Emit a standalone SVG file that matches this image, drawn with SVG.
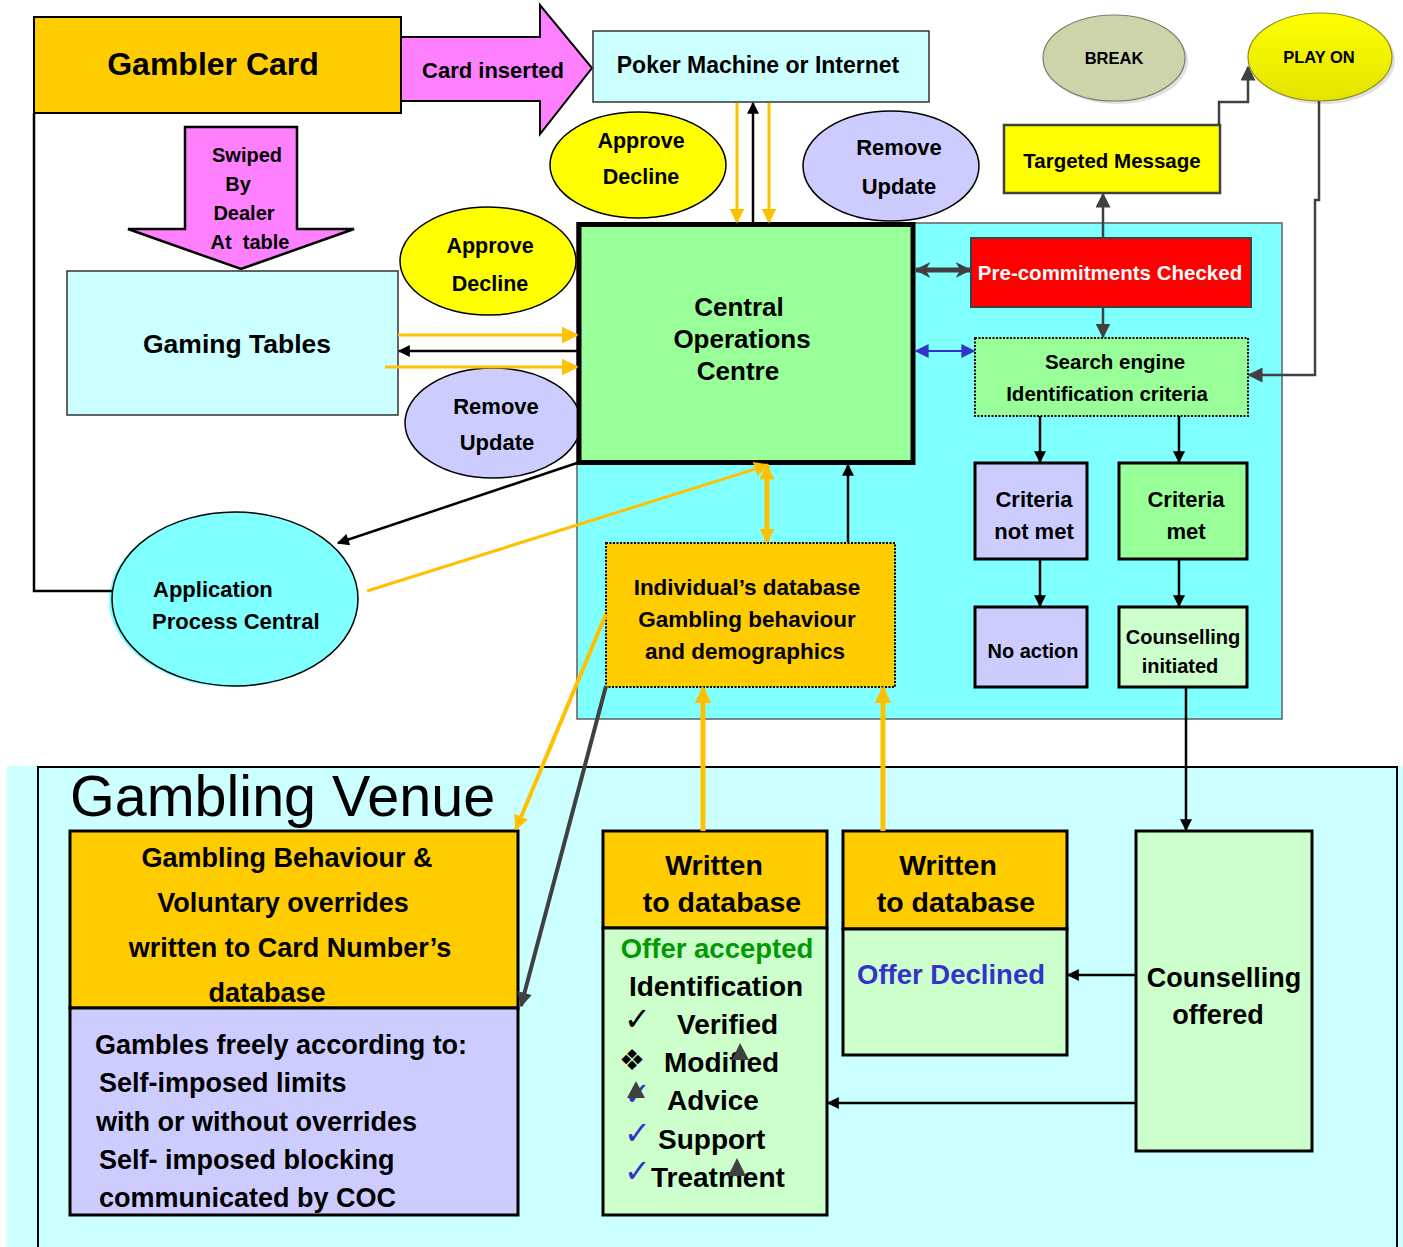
<svg xmlns="http://www.w3.org/2000/svg" width="1403" height="1247" viewBox="0 0 1403 1247">
<defs>
<style>
text{font-family:"Liberation Sans",Arial,sans-serif;font-weight:bold;fill:#000;dominant-baseline:central}
.c{text-anchor:middle}
.s{text-anchor:start}
.bx{stroke:#000;stroke-width:3}
.thin{stroke:#000;stroke-width:1.5}
.ln{fill:none;stroke:#000;stroke-width:2.5}
.yl{fill:none;stroke:#FFC000;stroke-width:3}
.yt{fill:none;stroke:#FFC000;stroke-width:5}
.gl{fill:none;stroke:#404040;stroke-width:2.5}
.sym{font-family:"DejaVu Sans",sans-serif;font-weight:normal}
</style>
<marker id="hB" viewBox="0 0 10 10" refX="9" refY="5" markerWidth="13" markerHeight="12" markerUnits="userSpaceOnUse" orient="auto-start-reverse"><path d="M0,0L10,5L0,10z" fill="#000"/></marker>
<marker id="hY" viewBox="0 0 10 10" refX="9" refY="5" markerWidth="15" markerHeight="15" markerUnits="userSpaceOnUse" orient="auto-start-reverse"><path d="M0,0L10,5L0,10z" fill="#FFC000"/></marker>
<marker id="hYb" viewBox="0 0 10 10" refX="9" refY="5" markerWidth="17" markerHeight="17" markerUnits="userSpaceOnUse" orient="auto-start-reverse"><path d="M0,0L10,5L0,10z" fill="#FFC000"/></marker>
<marker id="hG" viewBox="0 0 10 10" refX="9" refY="5" markerWidth="15" markerHeight="15" markerUnits="userSpaceOnUse" orient="auto-start-reverse"><path d="M0,0L10,5L0,10z" fill="#404040"/></marker>
<marker id="hGc" viewBox="0 0 10 10" refX="9" refY="5" markerWidth="16" markerHeight="18" markerUnits="userSpaceOnUse" orient="auto-start-reverse"><path d="M0,0L10,5L0,10L3,5z" fill="#404040"/></marker>
<marker id="hL" viewBox="0 0 10 10" refX="9" refY="5" markerWidth="15" markerHeight="14" markerUnits="userSpaceOnUse" orient="auto-start-reverse"><path d="M0,0L10,5L0,10z" fill="#3333CC"/></marker>
<linearGradient id="gy" x1="0" y1="0" x2="0" y2="1"><stop offset="0" stop-color="#FFFF00"/><stop offset="1" stop-color="#E3E300"/></linearGradient>
</defs>

<g id="venue-bg">
<rect x="7" y="766" width="1396" height="481" fill="#CCFFFF"/>
<rect x="38" y="767" width="1359" height="490" fill="none" stroke="#000" stroke-width="2"/>
<text x="70" y="796" class="s" style="font-weight:normal;font-size:57.5px">Gambling Venue</text>
</g>

<g id="central-area">
<rect x="577" y="223" width="705" height="496" fill="#80FFFF" stroke="#606060" stroke-width="1.5"/>
</g>

<g id="gambler-card">
<rect x="34" y="17" width="367" height="96" fill="#FFCC00" stroke="#000" stroke-width="2"/>
<text x="213" y="64" class="c" style="font-size:32px">Gambler Card</text>
</g>

<g id="card-inserted">
<path d="M401,37 L540,37 L540,5 L592,68 L540,134 L540,101 L401,101 Z" fill="#FF80FF" stroke="#000" stroke-width="2"/>
<text x="493" y="70" class="c" style="font-size:22px">Card inserted</text>
</g>

<g id="poker-machine">
<rect x="593" y="31" width="336" height="71" fill="#CCFFFF" stroke="#333" stroke-width="1.5"/>
<text x="758" y="65" class="c" style="font-size:23px">Poker Machine or Internet</text>
</g>

<g id="approve-top">
<ellipse cx="638" cy="165" rx="88" ry="53" fill="#FFFF00" class="thin"/>
<text x="641" y="141" class="c" style="font-size:21.5px">Approve</text>
<text x="641" y="177" class="c" style="font-size:21.5px">Decline</text>
</g>

<g id="remove-top">
<ellipse cx="891" cy="166" rx="88" ry="55" fill="#CCCCFF" class="thin"/>
<text x="899" y="147" class="c" style="font-size:22px">Remove</text>
<text x="899" y="186" class="c" style="font-size:22px">Update</text>
</g>

<g id="swiped">
<path d="M185,127 L297,127 L297,229 L354,229 L241,269 L128,229 L185,229 Z" fill="#FF80FF" stroke="#000" stroke-width="2.5"/>
<text x="247" y="155" class="c" style="font-size:20px">Swiped</text>
<text x="238" y="184" class="c" style="font-size:20px">By</text>
<text x="244" y="213" class="c" style="font-size:20px">Dealer</text>
<text x="250" y="242" class="c" style="font-size:20px" xml:space="preserve">At  table</text>
</g>

<g id="gaming-tables">
<rect x="67" y="271" width="331" height="144" fill="#CCFFFF" stroke="#333" stroke-width="1.5"/>
<text x="237" y="344" class="c" style="font-size:26.5px">Gaming Tables</text>
</g>

<g id="approve-left">
<ellipse cx="488" cy="261" rx="88" ry="54" fill="#FFFF00" class="thin"/>
<text x="490" y="246" class="c" style="font-size:21.5px">Approve</text>
<text x="490" y="284" class="c" style="font-size:21.5px">Decline</text>
</g>

<g id="remove-left">
<ellipse cx="493" cy="423" rx="88" ry="55" fill="#CCCCFF" class="thin"/>
<text x="496" y="406" class="c" style="font-size:22px">Remove</text>
<text x="497" y="442" class="c" style="font-size:22px">Update</text>
</g>

<g id="coc">
<rect x="579" y="224.5" width="334" height="238" fill="#99FF99" stroke="#000" stroke-width="5"/>
<text x="739" y="307" class="c" style="font-size:26px">Central</text>
<text x="742" y="339" class="c" style="font-size:26px">Operations</text>
<text x="738" y="371" class="c" style="font-size:26px">Centre</text>
</g>

<g id="break">
<ellipse cx="1117" cy="61" rx="71" ry="43" fill="#E0E0E0"/>
<ellipse cx="1114" cy="58" rx="71" ry="43" fill="#CDD4A9" stroke="#7A7A6A" stroke-width="1.2"/>
<text x="1114" y="58" class="c" style="font-size:16.5px">BREAK</text>
</g>

<g id="play-on">
<ellipse cx="1323" cy="60" rx="72" ry="44" fill="#E0E0E0"/>
<ellipse cx="1320" cy="57" rx="72" ry="44" fill="url(#gy)" stroke="#8C8C20" stroke-width="1.2"/>
<text x="1319" y="57" class="c" style="font-size:16.5px">PLAY ON</text>
</g>

<g id="targeted-message">
<rect x="1004" y="125" width="216" height="68" fill="#FFFF00" stroke="#404040" stroke-width="2.5"/>
<text x="1112" y="160" class="c" style="font-size:20.5px">Targeted Message</text>
</g>

<g id="pre-commitments">
<rect x="971" y="238" width="280" height="69" fill="#FF0000" stroke="#404040" stroke-width="2"/>
<text x="1110" y="272" class="c" style="font-size:20.5px;fill:#FFFFFF">Pre-commitments Checked</text>
</g>

<g id="search-engine">
<rect x="975" y="338" width="273" height="78" fill="#99FF99" stroke="#000" stroke-width="2" stroke-dasharray="2 1.5"/>
<text x="1115" y="361" class="c" style="font-size:20.5px">Search engine</text>
<text x="1107" y="393" class="c" style="font-size:20.5px">Identification criteria</text>
</g>

<g id="criteria-not-met">
<rect x="975" y="463" width="112" height="96" fill="#CCCCFF" class="bx"/>
<text x="1034" y="499" class="c" style="font-size:22px">Criteria</text>
<text x="1034" y="531" class="c" style="font-size:22px">not met</text>
</g>

<g id="criteria-met">
<rect x="1119" y="463" width="128" height="96" fill="#99FF99" class="bx"/>
<text x="1186" y="499" class="c" style="font-size:22px">Criteria</text>
<text x="1186" y="531" class="c" style="font-size:22px">met</text>
</g>

<g id="no-action">
<rect x="975" y="607" width="112" height="80" fill="#CCCCFF" class="bx"/>
<text x="1033" y="651" class="c" style="font-size:20px">No action</text>
</g>

<g id="counselling-initiated">
<rect x="1119" y="607" width="128" height="80" fill="#CCFFCC" class="bx"/>
<text x="1183" y="637" class="c" style="font-size:20px">Counselling</text>
<text x="1180" y="666" class="c" style="font-size:20px">initiated</text>
</g>

<g id="individual-database">
<rect x="606" y="543" width="289" height="144" fill="#FFCC00" stroke="#000" stroke-width="2" stroke-dasharray="2 1.5"/>
<text x="747" y="587" class="c" style="font-size:22.5px">Individual’s database</text>
<text x="747" y="619" class="c" style="font-size:22.5px">Gambling behaviour</text>
<text x="745" y="651" class="c" style="font-size:22.5px">and demographics</text>
</g>

<g id="application-process">
<ellipse cx="232" cy="600" rx="123" ry="87" fill="#80FFFF"/>
<ellipse cx="235" cy="599" rx="123" ry="87" fill="#80FFFF" stroke="#000" stroke-width="1.5"/>
<text x="153" y="589" class="s" style="font-size:22px">Application</text>
<text x="152" y="621" class="s" style="font-size:22px">Process Central</text>
</g>

<g id="gambling-behaviour">
<rect x="70" y="831" width="448" height="177" fill="#FFCC00" class="bx"/>
<text x="287" y="858" class="c" style="font-size:27px">Gambling Behaviour &amp;</text>
<text x="283" y="903" class="c" style="font-size:27px">Voluntary overrides</text>
<text x="290" y="948" class="c" style="font-size:27px">written to Card Number’s</text>
<text x="267" y="993" class="c" style="font-size:27px">database</text>
</g>

<g id="gambles-freely">
<rect x="70" y="1008" width="448" height="207" fill="#CCCCFF" class="bx"/>
<text x="95" y="1045" class="s" style="font-size:27px">Gambles freely according to:</text>
<text x="99" y="1083" class="s" style="font-size:27px">Self-imposed limits</text>
<text x="96" y="1122" class="s" style="font-size:27px">with or without overrides</text>
<text x="99" y="1160" class="s" style="font-size:27px">Self- imposed blocking</text>
<text x="99" y="1198" class="s" style="font-size:27px">communicated by COC</text>
</g>

<g id="written-accepted">
<rect x="603" y="831" width="224" height="97" fill="#FFCC00" class="bx"/>
<rect x="603" y="928" width="224" height="287" fill="#CCFFCC" class="bx"/>
<text x="714" y="865" class="c" style="font-size:28.5px">Written</text>
<text x="722" y="902" class="c" style="font-size:28.5px">to database</text>
<text x="717" y="948" class="c" style="font-size:27.5px;fill:#009900">Offer accepted</text>
<text x="716" y="986" class="c" style="font-size:28px">Identification</text>
<text x="624" y="1019" class="s sym" style="font-size:32px">✓</text>
<text x="677" y="1024" class="s" style="font-size:28px">Verified</text>
<text x="619" y="1060" class="s sym" style="font-size:29px">❖</text>
<text x="664" y="1062" class="s" style="font-size:28px">Modified</text>
<text x="624" y="1094" class="s sym" style="font-size:32px;fill:#3333CC">✓</text>
<text x="667" y="1100" class="s" style="font-size:28px">Advice</text>
<text x="624" y="1133" class="s sym" style="font-size:32px;fill:#3333CC">✓</text>
<text x="658" y="1139" class="s" style="font-size:28px">Support</text>
<text x="624" y="1171" class="s sym" style="font-size:32px;fill:#3333CC">✓</text>
<text x="651" y="1177" class="s" style="font-size:28px">Treatment</text>
<path d="M740,1043 L749,1060 L732,1060 Z M636,1081 L645,1098 L627,1098 Z M737,1158 L746,1176 L728,1176 Z" fill="#404040"/>
</g>

<g id="written-declined">
<rect x="843" y="831" width="224" height="98" fill="#FFCC00" class="bx"/>
<rect x="843" y="929" width="224" height="126" fill="#CCFFCC" class="bx"/>
<text x="948" y="865" class="c" style="font-size:28.5px">Written</text>
<text x="956" y="902" class="c" style="font-size:28.5px">to database</text>
<text x="951" y="974" class="c" style="font-size:27.5px;fill:#3333CC">Offer Declined</text>
</g>

<g id="counselling-offered">
<rect x="1136" y="831" width="176" height="320" fill="#CCFFCC" class="bx"/>
<text x="1224" y="978" class="c" style="font-size:27px">Counselling</text>
<text x="1218" y="1015" class="c" style="font-size:27px">offered</text>
</g>

<g id="connectors">
<line x1="737" y1="103" x2="737" y2="222" class="yl" marker-end="url(#hY)"/>
<line x1="769" y1="103" x2="769" y2="222" class="yl" marker-end="url(#hY)"/>
<line x1="753" y1="222" x2="753" y2="103" class="ln" marker-end="url(#hB)"/>
<line x1="398" y1="335" x2="577" y2="335" class="yl" marker-end="url(#hYb)"/>
<line x1="577" y1="351" x2="399" y2="351" class="ln" marker-end="url(#hB)"/>
<line x1="385" y1="367" x2="577" y2="367" class="yl" marker-end="url(#hYb)"/>
<line x1="916" y1="270" x2="970" y2="270" stroke="#404040" stroke-width="5" marker-start="url(#hGc)" marker-end="url(#hGc)"/>
<line x1="916" y1="351" x2="974" y2="351" stroke="#3333CC" stroke-width="2" marker-start="url(#hL)" marker-end="url(#hL)"/>
<line x1="1103" y1="238" x2="1103" y2="194" class="gl" marker-end="url(#hG)"/>
<line x1="1103" y1="307" x2="1103" y2="337" class="gl" marker-end="url(#hG)"/>
<polyline points="1219,125 1219,102 1248,102 1248,67" class="gl" marker-end="url(#hG)"/>
<polyline points="1319,101 1319,200 1315,200 1315,375 1249,375" class="gl" marker-end="url(#hG)"/>
<line x1="1040" y1="416" x2="1040" y2="462" class="ln" marker-end="url(#hB)"/>
<line x1="1179" y1="416" x2="1179" y2="462" class="ln" marker-end="url(#hB)"/>
<line x1="1040" y1="560" x2="1040" y2="606" class="ln" marker-end="url(#hB)"/>
<line x1="1179" y1="560" x2="1179" y2="606" class="ln" marker-end="url(#hB)"/>
<line x1="1186" y1="688" x2="1186" y2="830" class="ln" marker-end="url(#hB)"/>
<line x1="767" y1="466" x2="767" y2="542" class="yt" marker-start="url(#hY)" marker-end="url(#hY)"/>
<line x1="848" y1="542" x2="848" y2="465" class="ln" marker-end="url(#hB)"/>
<line x1="367" y1="591" x2="768" y2="465" class="yl" marker-end="url(#hY)"/>
<line x1="577" y1="463" x2="338" y2="543" class="ln" marker-end="url(#hB)"/>
<polyline points="34,113 34,591 112,591" class="ln"/>
<line x1="606" y1="614" x2="516" y2="829" stroke="#FFC000" stroke-width="4" marker-end="url(#hY)"/>
<line x1="606" y1="686" x2="521" y2="1006" stroke="#404040" stroke-width="4" marker-end="url(#hG)"/>
<line x1="703" y1="831" x2="703" y2="688" class="yt" marker-end="url(#hYb)"/>
<line x1="883" y1="831" x2="883" y2="688" class="yt" marker-end="url(#hYb)"/>
<line x1="1136" y1="975" x2="1068" y2="975" class="ln" marker-end="url(#hB)"/>
<line x1="1136" y1="1103" x2="828" y2="1103" class="ln" marker-end="url(#hB)"/>
</g>
</svg>
